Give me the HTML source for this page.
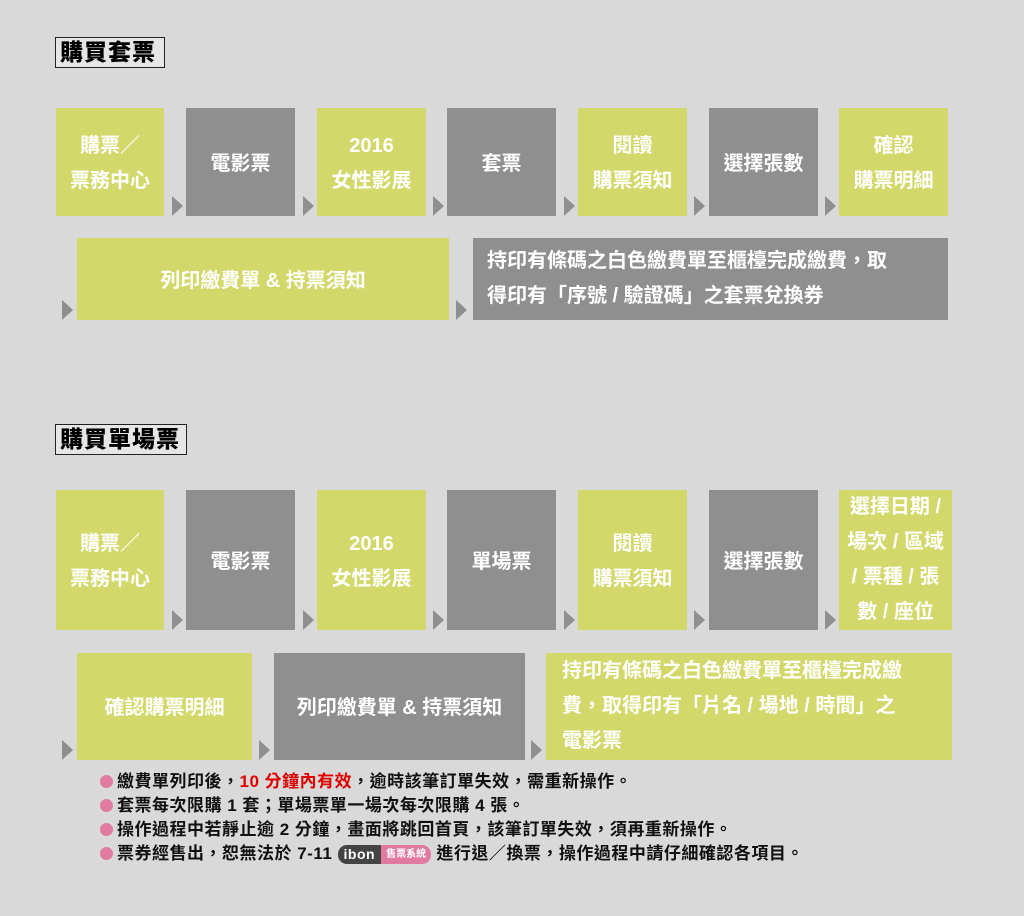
<!DOCTYPE html>
<html><head><meta charset="utf-8"><style>
body{margin:0;width:1024px;height:916px;background:#d9d9d9;position:relative;overflow:hidden;font-family:"Liberation Sans","Noto Sans CJK TC",sans-serif;}
.b{position:absolute;display:flex;align-items:center;justify-content:center;text-align:center;color:#fff;font-weight:bold;font-size:20px;line-height:35px;padding-top:4px;box-sizing:border-box}
.g{background:#d2d96a}.d{background:#8f8f8f}
.t{position:absolute;width:0;height:0;border-top:10px solid transparent;border-bottom:10px solid transparent;border-left:11px solid #8f8f8f;}
.h{position:absolute;border:1.5px solid #222;background:#e6e6e6;font-weight:900;font-size:23px;letter-spacing:1px;color:#000;padding:0 4px;line-height:29px;width:100px;}
.n{position:absolute;left:100px;font-size:17px;letter-spacing:0.5px;font-weight:bold;color:#111;white-space:nowrap;line-height:22px}
.n:before{content:"";display:inline-block;width:13px;height:13px;border-radius:50%;background:#e07aa0;margin-right:4px;vertical-align:-1px}
.bd{display:inline-block;vertical-align:middle;color:#fff;line-height:19px;height:19px}
</style></head><body>
<div class="h" style="left:55px;top:37px">購買套票</div>
<div class="b g" style="left:56px;top:108px;width:108px;height:108px">購票／<br>票務中心</div>
<div class="t" style="left:172px;top:196px"></div>
<div class="b d" style="left:186px;top:108px;width:109px;height:108px">電影票</div>
<div class="t" style="left:303px;top:196px"></div>
<div class="b g" style="left:317px;top:108px;width:109px;height:108px">2016<br>女性影展</div>
<div class="t" style="left:433px;top:196px"></div>
<div class="b d" style="left:447px;top:108px;width:109px;height:108px">套票</div>
<div class="t" style="left:564px;top:196px"></div>
<div class="b g" style="left:578px;top:108px;width:109px;height:108px">閱讀<br>購票須知</div>
<div class="t" style="left:694px;top:196px"></div>
<div class="b d" style="left:709px;top:108px;width:109px;height:108px">選擇張數</div>
<div class="t" style="left:825px;top:196px"></div>
<div class="b g" style="left:839px;top:108px;width:109px;height:108px">確認<br>購票明細</div>
<div class="t" style="left:62px;top:300px"></div>
<div class="b g" style="left:77px;top:238px;width:372px;height:82px">列印繳費單 &amp; 持票須知</div>
<div class="t" style="left:456px;top:300px"></div>
<div class="b d" style="left:473px;top:238px;width:475px;height:82px;justify-content:flex-start;text-align:left;padding-left:14px;padding-top:0">持印有條碼之白色繳費單至櫃檯完成繳費，取<br>得印有「序號 / 驗證碼」之套票兌換券</div>

<div class="h" style="left:55px;top:424px;width:122px">購買單場票</div>
<div class="b g" style="left:56px;top:490px;width:108px;height:140px">購票／<br>票務中心</div>
<div class="t" style="left:172px;top:610px"></div>
<div class="b d" style="left:186px;top:490px;width:109px;height:140px">電影票</div>
<div class="t" style="left:303px;top:610px"></div>
<div class="b g" style="left:317px;top:490px;width:109px;height:140px">2016<br>女性影展</div>
<div class="t" style="left:433px;top:610px"></div>
<div class="b d" style="left:447px;top:490px;width:109px;height:140px">單場票</div>
<div class="t" style="left:564px;top:610px"></div>
<div class="b g" style="left:578px;top:490px;width:109px;height:140px">閱讀<br>購票須知</div>
<div class="t" style="left:694px;top:610px"></div>
<div class="b d" style="left:709px;top:490px;width:109px;height:140px">選擇張數</div>
<div class="t" style="left:825px;top:610px"></div>
<div class="b g" style="left:839px;top:490px;width:113px;height:140px;line-height:35px;padding-top:0">選擇日期 /<br>場次 / 區域<br>/ 票種 / 張<br>數 / 座位</div>
<div class="t" style="left:62px;top:740px"></div>
<div class="b g" style="left:77px;top:653px;width:175px;height:107px">確認購票明細</div>
<div class="t" style="left:259px;top:740px"></div>
<div class="b d" style="left:274px;top:653px;width:251px;height:107px">列印繳費單 &amp; 持票須知</div>
<div class="t" style="left:531px;top:740px"></div>
<div class="b g" style="left:546px;top:653px;width:406px;height:107px;justify-content:flex-start;text-align:left;padding-left:16px;padding-top:0">持印有條碼之白色繳費單至櫃檯完成繳<br>費，取得印有「片名 / 場地 / 時間」之<br>電影票</div>

<div class="n" style="top:771px">繳費單列印後，<span style="color:#d00">10 分鐘內有效</span>，逾時該筆訂單失效，需重新操作。</div>
<div class="n" style="top:795px">套票每次限購 1 套；單場票單一場次每次限購 4 張。</div>
<div class="n" style="top:819px">操作過程中若靜止逾 2 分鐘，畫面將跳回首頁，該筆訂單失效，須再重新操作。</div>
<div class="n" style="top:843px">票券經售出，恕無法於 7-11 <span class="bd" style="background:#444;border-radius:9px 0 0 9px;padding:0 6px;font-size:14px">ibon</span><span class="bd" style="background:#e07aa0;border-radius:0 9px 9px 0;padding:0 5px;font-size:10px;letter-spacing:0">售票系統</span> 進行退／換票，操作過程中請仔細確認各項目。</div>
</body></html>
